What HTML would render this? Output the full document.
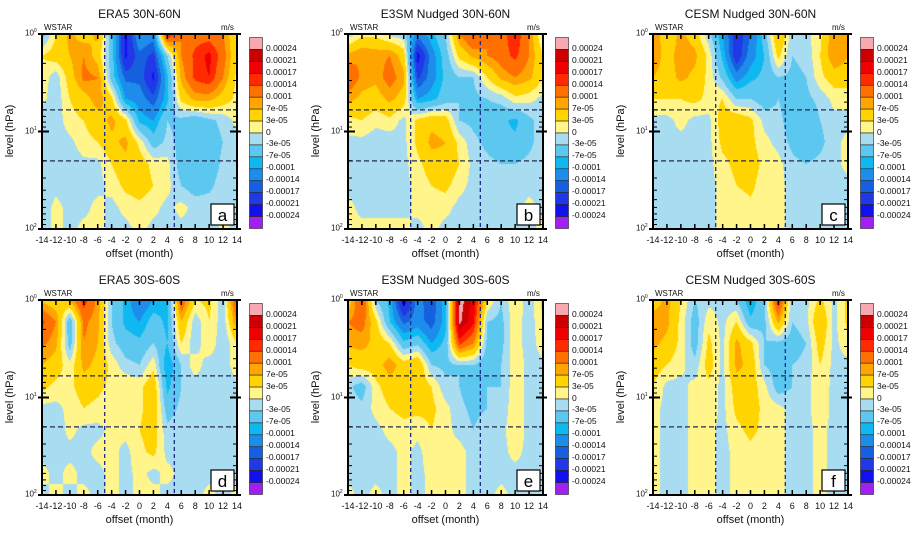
<!DOCTYPE html>
<html><head><meta charset="utf-8">
<style>
body{margin:0;background:#fff;width:912px;height:536px;overflow:hidden;font-family:"Liberation Sans",sans-serif;}
#root{position:relative;width:912px;height:536px;}
.t{position:absolute;white-space:nowrap;color:#111;}
canvas{position:absolute;}
</style></head>
<body><div id="root"></div>
<script>
// months -14..14 step 2 (columns); rows from 1 hPa (top) to 100 hPa (bottom); values in 1e-5 m/s
const months=[-14,-12,-10,-8,-6,-4,-2,0,2,4,6,8,10,12,14];
const levelLevels=[0,1,2,3,4,5,6,7,8,9];
const contourLevels=[-24,-21,-17,-14,-10,-7,-3,0,3,7,10,14,17,21,24];
const levelLabels=["-0.00024","-0.00021","-0.00017","-0.00014","-0.0001","-7e-05","-3e-05","0","3e-05","7e-05","0.0001","0.00014","0.00017","0.00021","0.00024"];
const xTickLabels=["-14","-12","-10","-8","-6","-4","-2","0","2","4","6","8","10","12","14"];
const panelTitles=["ERA5 30N-60N","E3SM Nudged 30N-60N","CESM Nudged 30N-60N","ERA5 30S-60S","E3SM Nudged 30S-60S","CESM Nudged 30S-60S"];
const panelLetters=["a","b","c","d","e","f"];
const dataA=[
[-5,3,8,5,8,-5,-22,-10,-12,18,10,12,12,10,3],
[3,5,7,10,5,-5,-22,-15,-18,-3,10,15,18,12,3],
[2,-2,5,11,10,-5,-15,-15,-22,-8,8,15,17,10,2],
[1,-2,3,5,9,4,-10,-12,-16,-8,4,8,8,5,2],
[-2,-2,2,3,5,8,4,-8,-10,-3,-4,-6,-4,-2,1],
[-2,-2,-1,2,3,6,8,2,-5,-2,-4,-6,-5,-3,-1],
[-2,-2,-2,-1,-1,3,6,5,2,1,-5,-6,-6,-2,-1],
[-2,-1,-2,-1,-1,1,4,5,3,1,-3,-5,-4,-1,-1],
[-2,1,-1,-1,1,-1,1,2,1,-1,1,-1,-1,-1,-1],
[-2,1,-1,1,1,-1,-1,1,-1,-1,-1,-1,-2,1,-1]];
const dataB=[
[-2,2,2,-1,-2,-12,-8,-3,10,15,10,12,17,10,-1],
[8,10,9,10,5,-23,-12,-5,4,8,10,12,15,10,3],
[14,9,8,12,8,-18,-12,-6,-3,-3,3,8,10,8,3],
[8,6,5,8,5,-10,-8,-5,-3,-4,-3,-2,2,1,-1],
[2,3,1,2,-1,4,6,5,-3,-4,-5,-6,-8,-4,-1],
[-1,-1,-2,-2,-1,4,8,7,2,-2,-4,-6,-6,-4,-1],
[-1,-2,-2,-2,-1,2,5,6,3,-1,-2,-3,-3,-2,-1],
[-1,-1,-2,-2,-1,1,3,4,1,-1,-1,-1,-2,-1,-1],
[1,-1,-1,-1,-1,1,1,1,-1,-1,-1,-1,-1,1,-1],
[1,1,1,1,1,-1,1,-1,-1,-1,-1,-1,-1,-1,1]];
const dataC=[
[10,4,8,5,-2,-10,-20,-14,-5,8,-2,-1,2,10,8],
[10,5,9,8,2,-8,-20,-12,-7,4,-3,-2,3,10,7],
[7,5,8,6,2,-4,-12,-8,-6,-3,-4,-3,2,5,5],
[3,3,3,4,2,3,-3,-3,-5,-3,-5,-4,-2,1,1],
[-1,-1,1,-1,-1,5,6,4,-1,-2,-5,-6,-3,-1,-1],
[-1,-1,-1,-1,-1,4,5,4,1,-1,-4,-6,-4,-1,1],
[-1,-1,-1,-1,-1,2,4,5,2,1,-2,-3,-2,-1,1],
[-1,-1,-1,-1,-1,1,3,4,1,1,-1,-1,-1,-1,-1],
[-1,-1,-1,-1,-1,1,1,2,1,1,-1,-1,-1,-1,-1],
[-1,-1,-1,-1,-1,1,1,1,1,1,-1,-1,-1,-1,-1]];
const dataD=[
[6,4,8,16,9,-3,-8,-14,-10,-8,14,3,4,-2,16],
[15,10,-6,11,8,-3,-8,-10,-5,-8,7,-2,3,-2,10],
[11,8,-5,10,7,-2,-5,-6,-3,-7,3,-2,3,-3,3],
[7,5,1,8,6,2,-2,-3,2,-10,-3,2,-2,-2,2],
[4,2,2,5,4,2,3,2,6,-8,-3,-2,-2,-2,-1],
[-1,-1,1,3,2,1,1,2,6,-5,-2,-2,-2,-1,-1],
[-1,-2,1,-1,-1,1,1,3,5,-2,-1,-2,-1,-1,-1],
[-1,-1,-1,-1,1,1,-1,2,4,-1,-1,-2,-1,-1,-1],
[1,-1,1,-1,-1,1,-1,1,-1,1,-1,-1,-1,-1,-1],
[-1,1,-1,1,-1,1,-1,1,1,-1,-1,-1,1,-1,1]];
const dataE=[
[4,15,-3,-8,-24,-12,-17,-8,26,20,3,-3,3,-2,4],
[10,12,4,-7,-15,-12,-16,-8,25,18,-3,-4,2,-2,3],
[8,8,6,3,-6,-4,-10,-6,15,10,-4,-4,2,-2,2],
[3,5,5,9,5,7,-3,-4,-3,-3,-6,-3,2,-1,-1],
[-2,-5,2,5,5,6,3,-2,-3,-6,-3,-3,2,-1,-1],
[-1,-2,1,3,4,4,4,1,-2,-4,-3,-2,2,-1,-1],
[-1,-1,-1,1,2,1,3,1,-1,-3,-1,-1,2,-1,-1],
[-1,-1,-1,-1,1,-1,2,1,1,-1,-1,-1,1,-1,-1],
[-1,-1,-1,-1,1,-1,1,1,1,-1,-1,-1,-1,-1,-1],
[1,-1,1,-1,1,-1,1,1,1,-1,-1,1,-1,-1,-1]];
const dataF=[
[5,8,3,-3,-1,-1,-3,-10,-3,17,-3,-1,4,-1,4],
[9,8,2,-5,2,-1,3,-6,-4,8,-3,-1,7,-1,4],
[8,6,2,-5,4,-1,8,4,-3,-4,-5,-3,5,-1,2],
[5,3,1,-2,5,-1,8,6,-3,-5,-3,-2,3,-1,-1],
[3,-1,-1,1,2,-1,5,5,1,-5,-3,-1,2,-1,-1],
[1,-1,-1,1,2,-1,4,5,2,1,-1,-1,2,-1,-1],
[1,-1,-1,1,1,-1,2,4,2,1,-1,-1,1,-1,-1],
[1,-1,-1,1,1,-1,1,2,1,1,-1,-1,1,-1,-1],
[1,-1,-1,1,1,-1,1,1,1,1,-1,-1,1,-1,-1],
[1,-1,-1,1,1,-1,1,1,1,1,-1,-1,1,-1,-1]];
const panelData=[dataA,dataB,dataC,dataD,dataE,dataF];

const colors=["#a020f0","#1010f0","#2038e8","#1660e0","#1e8ceb","#10b8f2","#5cc8f0","#a8dcf0","#fff58a","#ffd400","#ffa500","#ff7000","#ff2a00","#f00000","#cc0000","#f8a8b0"];
const PW=195,PH=195;
const origins=[[42,34],[348,34],[653,34],[42,300],[348,300],[653,300]];
const root=document.getElementById('root');
function hex(c){return [parseInt(c.substr(1,2),16),parseInt(c.substr(3,2),16),parseInt(c.substr(5,2),16)];}
const rgb=colors.map(hex);
function colorIndex(v){let i=0;while(i<contourLevels.length&&v>=contourLevels[i])i++;return i;}
function xScale(m){return (m-months[0])/(months[months.length-1]-months[0])*PW;}
function yFrac(logp){return logp/2*PH;} // logp 0..2
function txt(s,x,y,size,name,extra){const d=document.createElement('div');d.className='t';d.textContent=s;d.style.left=x+'px';d.style.top=y+'px';d.style.fontSize=size+'px';if(extra)Object.assign(d.style,extra);


root.appendChild(d);return d;}
const NS='http://www.w3.org/2000/svg';
function sv(tag,attrs,parent){const e=document.createElementNS(NS,tag);for(const k in attrs)e.setAttribute(k,attrs[k]);parent.appendChild(e);return e;}

panelData.forEach((data,p)=>{
  const [ox,oy]=origins[p];
  const cv=document.createElement('canvas');cv.width=PW;cv.height=PH;cv.style.left=ox+'px';cv.style.top=oy+'px';
  
  
  root.appendChild(cv);
  const ctx=cv.getContext('2d');const img=ctx.createImageData(PW,PH);
  const nr=data.length,nc=months.length;
  for(let py=0;py<PH;py++){
    const fr=(py+0.5)/PH*(nr-1);const r0=Math.min(Math.floor(fr),nr-2);const ty=fr-r0;
    for(let px=0;px<PW;px++){
      const m=months[0]+(px+0.5)/PW*(months[nc-1]-months[0]);
      const fc=(m-months[0])/2;const c0=Math.min(Math.floor(fc),nc-2);const tx=fc-c0;
      const v=(data[r0][c0]*(1-tx)+data[r0][c0+1]*tx)*(1-ty)+(data[r0+1][c0]*(1-tx)+data[r0+1][c0+1]*tx)*ty;
      const c=rgb[colorIndex(v)];const k=(py*PW+px)*4;
      img.data[k]=c[0];img.data[k+1]=c[1];img.data[k+2]=c[2];img.data[k+3]=255;
    }
  }
  ctx.putImageData(img,0,0);

  const svg=sv('svg',{width:PW+10,height:PH+10,style:'position:absolute;left:'+(ox-5)+'px;top:'+(oy-5)+'px;overflow:visible'},root);
  
  
  const g=sv('g',{transform:'translate(5,5)'},svg);
  // dashed reference lines
  [-5,5].forEach(m=>{const l=sv('line',{x1:xScale(m),x2:xScale(m),y1:0,y2:PH,stroke:'#1a2a8a','stroke-width':1.3,'stroke-dasharray':'4,3'},g);
    
    });
  [Math.log10(6),Math.log10(20)].forEach(lp=>{const l=sv('line',{x1:0,x2:PW,y1:yFrac(lp),y2:yFrac(lp),stroke:'#222a55','stroke-width':1.3,'stroke-dasharray':'5,3'},g);
    
    });
  // ticks
  months.forEach(m=>{const x=xScale(m);
    sv('line',{x1:x,x2:x,y1:PH,y2:PH-5,stroke:'#000','stroke-width':1.5},g);
    sv('line',{x1:x,x2:x,y1:0,y2:5,stroke:'#000','stroke-width':1.5},g);});
  for(let dec=0;dec<2;dec++)for(let k=2;k<=9;k++){const y=yFrac(dec+Math.log10(k));
    sv('line',{x1:0,x2:4,y1:y,y2:y,stroke:'#000','stroke-width':1},g);
    sv('line',{x1:PW,x2:PW-4,y1:y,y2:y,stroke:'#000','stroke-width':1},g);}
  [0,1,2].forEach(d=>{const y=yFrac(d);
    sv('line',{x1:-4,x2:7,y1:y,y2:y,stroke:'#000','stroke-width':2},g);
    sv('line',{x1:PW-7,x2:PW+4,y1:y,y2:y,stroke:'#000','stroke-width':2},g);});
  sv('rect',{x:0,y:0,width:PW,height:PH,fill:'none',stroke:'#000','stroke-width':2},g);
  // letter box
  const lb=sv('rect',{x:PW-26,y:PH-25,width:23,height:21,fill:'#fff',stroke:'#000','stroke-width':1.2},g);
  
  
  const lt=sv('text',{x:PW-14.5,y:PH-8,'text-anchor':'middle','font-size':17,'font-family':'Liberation Sans, sans-serif'},g);lt.textContent=panelLetters[p];
  
  

  // titles and labels
  const tt=txt(panelTitles[p],ox+PW/2,oy-27,12,'panel-title',{transform:'translateX(-50%)'});
  txt('WSTAR',ox+2,oy-11,8,'variable-label');
  txt('m/s',ox+PW-16,oy-11,8,'unit-label');
  ['0','1','2'].forEach((e,i)=>{const d=txt('10',ox-17,oy+yFrac(i)-6,8,'y-tick-label');
    const s=document.createElement('sup');s.textContent=e;s.style.fontSize='5px';d.appendChild(s);});
  txt('level (hPa)',ox-33,oy+PH/2-7,11,'y-axis-title',{transform:'translateX(-50%) rotate(-90deg)',left:(ox-32)+'px'});
  xTickLabels.forEach((s,i)=>{txt(s,ox+xScale(months[i]),oy+PH+6,9,'x-tick-label',{transform:'translateX(-50%)'});});
  txt('offset (month)',ox+PW/2,oy+PH+19,11,'x-axis-title',{transform:'translateX(-50%)'});
  // colorbar
  const cbx=ox+PW+12,cby=oy+3,cbh=191,nb=colors.length,bh=cbh/nb;
  const cs=sv('svg',{width:16,height:cbh+2,style:'position:absolute;left:'+cbx+'px;top:'+cby+'px'},root);
  
  
  for(let i=0;i<nb;i++){const r=sv('rect',{x:0.5,y:0.5+i*bh,width:13,height:bh,fill:colors[nb-1-i],stroke:'#222','stroke-width':0.6},cs);
    
    }
  levelLabels.slice().reverse().forEach((s,i)=>{txt(s,cbx+17,cby+(i+1)*bh-6,8.5,'colorbar-label');});
});
</script>
</body></html>
